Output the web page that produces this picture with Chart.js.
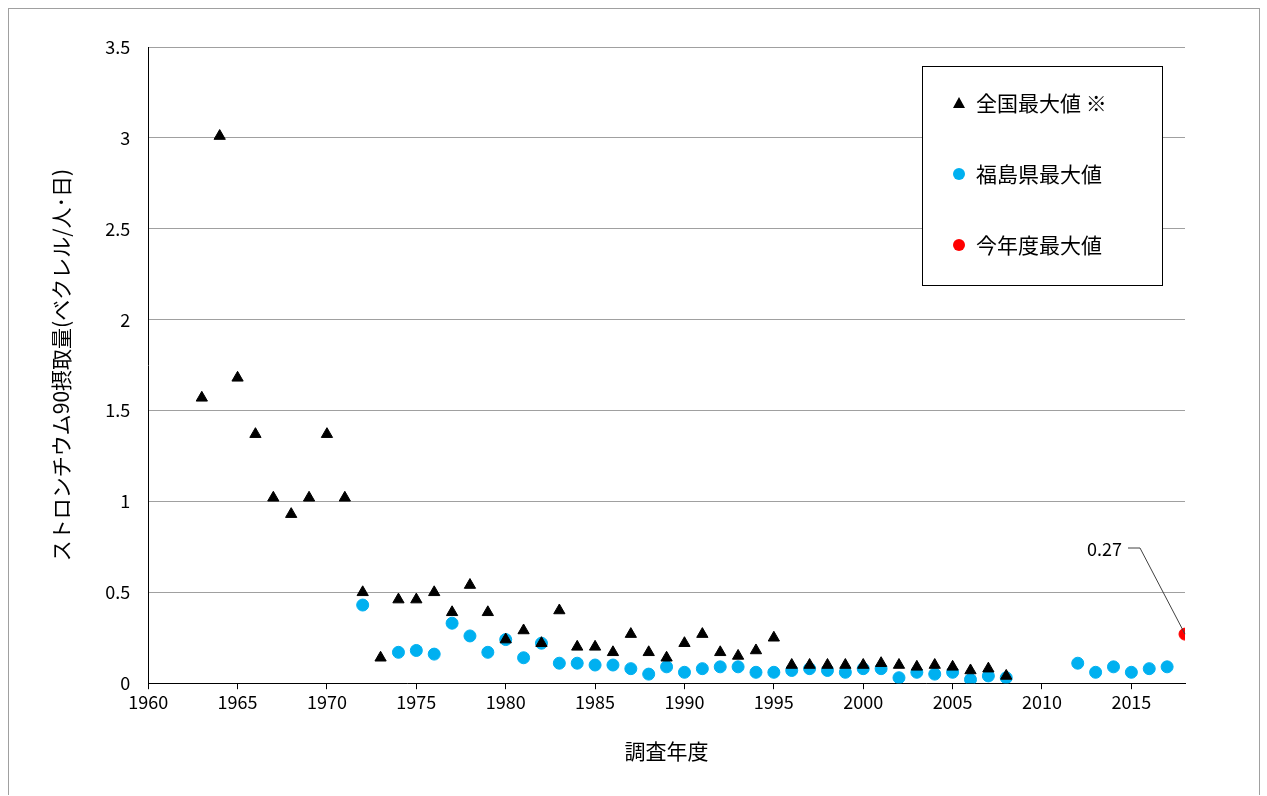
<!DOCTYPE html>
<html>
<head>
<meta charset="utf-8">
<script src="https://cdn.jsdelivr.net/npm/chart.js@4"></script>
<style>
  body { margin: 0; background: #fff; }
  #wrap { position: absolute; left: 8px; top: 8px; width: 1250px; height: 786px; border: 1px solid #a0a0a0; border-bottom: none; }
  canvas { position: absolute; left: 0; top: 0; }
</style>
</head>
<body>
<div id="wrap"></div>
<canvas id="c" width="1267" height="796"></canvas>
<script>
const nationalYears = [1963,1964,1965,1966,1967,1968,1969,1970,1971,1972,1973,1974,1975,1976,1977,1978,1979,1980,1981,1982,1983,1984,1985,1986,1987,1988,1989,1990,1991,1992,1993,1994,1995,1996,1997,1998,1999,2000,2001,2002,2003,2004,2005,2006,2007,2008];
const nationalMax = [1.57,3.01,1.68,1.37,1.02,0.93,1.02,1.37,1.02,0.50,0.14,0.46,0.46,0.50,0.39,0.54,0.39,0.24,0.29,0.22,0.40,0.20,0.20,0.17,0.27,0.17,0.14,0.22,0.27,0.17,0.15,0.18,0.25,0.10,0.10,0.10,0.10,0.10,0.11,0.10,0.09,0.10,0.09,0.07,0.08,0.04];
const fukushimaYears = [1972,1974,1975,1976,1977,1978,1979,1980,1981,1982,1983,1984,1985,1986,1987,1988,1989,1990,1991,1992,1993,1994,1995,1996,1997,1998,1999,2000,2001,2002,2003,2004,2005,2006,2007,2008,2012,2013,2014,2015,2016,2017];
const fukushimaMax = [0.43,0.17,0.18,0.16,0.33,0.26,0.17,0.24,0.14,0.22,0.11,0.11,0.10,0.10,0.08,0.05,0.09,0.06,0.08,0.09,0.09,0.06,0.06,0.07,0.08,0.07,0.06,0.08,0.08,0.03,0.06,0.05,0.06,0.02,0.04,0.03,0.11,0.06,0.09,0.06,0.08,0.09];
const thisYear = [2018];
const thisYearMax = [0.27];
const seriesLabels = ['全国最大値 ※', '福島県最大値', '今年度最大値'];
const xTicks = [1960,1965,1970,1975,1980,1985,1990,1995,2000,2005,2010,2015];

const FONT = "'Noto Sans CJK JP', 'Liberation Sans', sans-serif";
const toPts = (xs, ys) => xs.map((x, i) => ({ x: x, y: ys[i] }));

const extras = {
  id: 'extras',
  afterDraw(chart) {
    const ctx = chart.ctx;
    const xs = chart.scales.x, ys = chart.scales.y;
    const px = xs.getPixelForValue(thisYear[0]), py = ys.getPixelForValue(thisYearMax[0]);
    ctx.save();
    ctx.strokeStyle = '#404040';
    ctx.lineWidth = 1;
    ctx.beginPath();
    ctx.moveTo(px, py);
    ctx.lineTo(1140, 548);
    ctx.lineTo(1128, 548);
    ctx.stroke();
    ctx.fillStyle = '#000';
    ctx.font = '18px ' + FONT;
    ctx.textAlign = 'right';
    ctx.textBaseline = 'middle';
    ctx.fillText(String(thisYearMax[0]), 1122, 549);
    // legend box
    const bx = 922, by = 66, bw = 240, bh = 219;
    ctx.fillStyle = '#fff';
    ctx.fillRect(bx, by, bw, bh);
    ctx.strokeStyle = '#000';
    ctx.strokeRect(bx + 0.5, by + 0.5, bw, bh);
    ctx.textAlign = 'left';
    ctx.font = '21px ' + FONT;
    chart.data.datasets.forEach((ds, i) => {
      const cy = 103 + i * 71, cx = 959;
      ctx.fillStyle = ds.backgroundColor;
      ctx.beginPath();
      if (ds.pointStyle === 'triangle') {
        ctx.moveTo(cx, cy - 6); ctx.lineTo(cx + 6, cy + 5); ctx.lineTo(cx - 6, cy + 5); ctx.closePath();
      } else {
        ctx.arc(cx, cy, 6, 0, Math.PI * 2);
      }
      ctx.fill();
      ctx.fillStyle = '#000';
      ctx.fillText(ds.label, 976, cy);
    });
    ctx.restore();
  }
};

new Chart(document.getElementById('c'), {
  type: 'scatter',
  data: {
    datasets: [
      { label: seriesLabels[0], data: toPts(nationalYears, nationalMax), pointStyle: 'triangle', pointRadius: 6.5, backgroundColor: '#000', borderColor: '#000' },
      { label: seriesLabels[1], data: toPts(fukushimaYears, fukushimaMax), pointStyle: 'circle', pointRadius: 6, backgroundColor: '#00b0f0', borderColor: '#00b0f0' },
      { label: seriesLabels[2], data: toPts(thisYear, thisYearMax), pointStyle: 'circle', pointRadius: 6, backgroundColor: '#ff0000', borderColor: '#ff0000' }
    ]
  },
  options: {
    responsive: false,
    animation: false,
    layout: { padding: { left: 44, right: 82, top: 47, bottom: 28 } },
    plugins: { legend: { display: false }, tooltip: { enabled: false } },
    scales: {
      x: {
        type: 'linear', min: 1960, max: 2018,
        afterBuildTicks: axis => { axis.ticks = xTicks.map(v => ({ value: v })); },
        grid: { display: true, drawOnChartArea: false, tickLength: 6, tickColor: '#000' },
        border: { color: '#000' },
        ticks: { color: '#000', font: { family: FONT, size: 18 }, maxRotation: 0, autoSkip: false, padding: 2, callback: v => String(v) },
        title: { display: true, text: '調査年度', color: '#000', font: { family: FONT, size: 21 }, padding: { top: 24 } }
      },
      y: {
        min: 0, max: 3.5,
        ticks: { stepSize: 0.5, color: '#000', font: { family: FONT, size: 18 }, padding: 18, callback: v => String(v) },
        grid: { color: '#a0a0a0', drawTicks: false },
        border: { color: '#000' },
        title: { display: true, text: 'ストロンチウム90摂取量(ベクレル/人･日)', color: '#000', font: { family: FONT, size: 21 }, padding: { bottom: 14 } }
      }
    }
  },
  plugins: [extras]
});
</script>
</body>
</html>
